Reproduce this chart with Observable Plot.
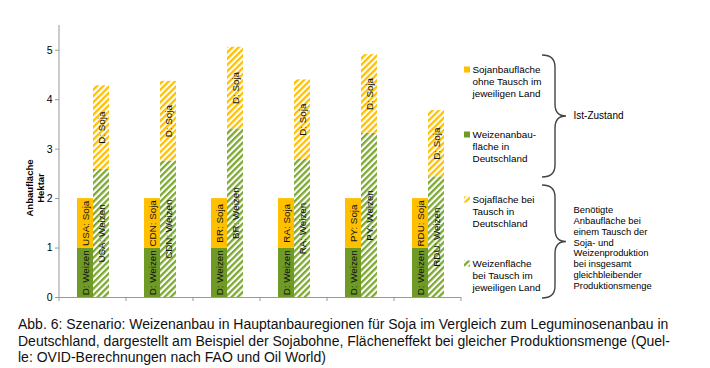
<!DOCTYPE html>
<html>
<head>
<meta charset="utf-8">
<script src="https://cdn.jsdelivr.net/npm/d3@7"></script>
<script src="https://cdn.jsdelivr.net/npm/@observablehq/plot@0.6"></script>
<style>
  body { margin: 0; background: #fff; width: 710px; height: 368px; overflow: hidden; }
  #caption { font-family: "Liberation Sans", Arial, sans-serif; font-size: 14px; line-height: 16.5px; color: #111; padding-left: 18px; margin-top: 4px; white-space: nowrap; }
</style>
</head>
<body>
<div id="chart"></div>
<div id="caption"></div>
<script>
const regions = ["USA", "CDN", "BR", "RA", "PY", "RDU"];
const dWeizen = [1, 1, 1, 1, 1, 1];                          // Weizenanbaufläche in Deutschland (Ist)
const sojaHeimat = [1, 1, 1, 1, 1, 1];                       // Sojaanbaufläche ohne Tausch im jeweiligen Land
const weizenTausch = [2.59, 2.76, 3.41, 2.79, 3.32, 2.44];   // Weizenfläche bei Tausch im jeweiligen Land
const sojaTauschD = [1.69, 1.61, 1.65, 1.61, 1.59, 1.34];    // Sojafläche bei Tausch in Deutschland
const yTicks = [0, 1, 2, 3, 4, 5];
const yLabel = ["Anbaufläche", "Hektar"];
const legendItems = [
  ["Sojanbaufläche", "ohne Tausch im", "jeweiligen Land"],
  ["Weizenanbau-", "fläche in", "Deutschland"],
  ["Sojafläche bei", "Tausch in", "Deutschland"],
  ["Weizenfläche", "bei Tausch im", "jeweiligen Land"]
];
const braceLabels = [
  ["Ist-Zustand"],
  ["Benötigte", "Anbaufläche bei", "einem Tausch der", "Soja- und", "Weizenproduktion", "bei insgesamt", "gleichbleibender", "Produktionsmenge"]
];
const captionLines = [
  "Abb. 6: Szenario: Weizenanbau in Hauptanbauregionen für Soja im Vergleich zum Leguminosenanbau in",
  "Deutschland, dargestellt am Beispiel der Sojabohne, Flächeneffekt bei gleicher Produktionsmenge (Quel-",
  "le: OVID-Berechnungen nach FAO und Oil World)"
];

const GREEN = "#6f9a26", YELLOW = "#ffc000", HGREEN = "#7da832";

const rows = regions.flatMap((r, i) => [
  {region: r, kind: "ist", part: "dw", y1: 0, y2: dWeizen[i], label: "D: Weizen"},
  {region: r, kind: "ist", part: "s", y1: dWeizen[i], y2: dWeizen[i] + sojaHeimat[i], label: r + ": Soja"},
  {region: r, kind: "tausch", part: "w", y1: 0, y2: weizenTausch[i], label: r + ": Weizen"},
  {region: r, kind: "tausch", part: "ds", y1: weizenTausch[i], y2: weizenTausch[i] + sojaTauschD[i], label: "D: Soja"}
]);
const fills = {dw: GREEN, s: YELLOW, w: "url(#hG)", ds: "url(#hY)"};

const barMarks = Object.keys(fills).map(p =>
  Plot.barY(rows.filter(d => d.part === p), {fx: "region", x: "kind", y1: "y1", y2: "y2", fill: fills[p], inset: 0})
);

const plot = Plot.plot({
  width: 710, height: 312,
  marginLeft: 58, marginRight: 248, marginTop: 25, marginBottom: 15,
  style: {fontFamily: "'Liberation Sans', Arial, sans-serif", fontSize: "10px", color: "#000", background: "#fff"},
  fx: {domain: regions, padding: 0, axis: null},
  x: {domain: ["ist", "tausch"], paddingInner: 0, paddingOuter: 0.98, axis: null},
  y: {domain: [0, 5.5]},
  marks: [
    ...barMarks,
    Plot.text(rows, {fx: "region", x: "kind", y: d => (d.y1 + d.y2) / 2, text: "label", rotate: -90, fontSize: 9.8, fill: "#111"}),
    Plot.ruleY([0], {stroke: "#999", strokeWidth: 1}),
    Plot.axisY({ticks: yTicks, tickFormat: d3.format("d"), tickSize: 4, tickPadding: 3, stroke: "#999", fill: "#000", fontSize: 10.5, label: null})
  ]
});

const svg = d3.select(plot.tagName === "svg" ? plot : plot.querySelector("svg"));
const defs = svg.insert("defs", ":first-child");
[["hG", HGREEN], ["hY", YELLOW]].forEach(([id, c]) => {
  const p = defs.append("pattern").attr("id", id).attr("patternUnits", "userSpaceOnUse")
    .attr("width", 4.4).attr("height", 4.4).attr("patternTransform", "rotate(45)");
  p.append("rect").attr("width", 4.4).attr("height", 4.4).attr("fill", "#fff");
  p.append("rect").attr("width", 2.3).attr("height", 4.4).attr("fill", c);
});

const fx = plot.scale("fx"), y = plot.scale("y");
const y0 = y.apply(0), yTop = y.apply(5.5);
const left = fx.apply(regions[0]);
const g = svg.append("g").attr("text-anchor", "start");
// left axis line
g.append("line").attr("x1", left).attr("x2", left).attr("y1", yTop).attr("y2", y0).attr("stroke", "#999");
// category boundary ticks
const bounds = regions.map(r => fx.apply(r)).concat([fx.apply(regions[regions.length - 1]) + fx.bandwidth]);
bounds.forEach(b => g.append("line").attr("x1", b).attr("x2", b).attr("y1", y0).attr("y2", y0 + 4).attr("stroke", "#999"));
// y label
const yl = g.append("text").attr("transform", `translate(34,${(y0 + yTop) / 2 + 27}) rotate(-90)`)
  .attr("text-anchor", "middle").attr("font-weight", "bold").attr("font-size", 9.5).attr("fill", "#000");
yLabel.forEach((t, i) => yl.append("tspan").attr("x", 0).attr("dy", i === 0 ? "-0.15em" : "1.15em").text(t));

// legend
const legendY = [70, 135, 200, 264];
const legendFill = [YELLOW, GREEN, "url(#hY)", "url(#hG)"];
legendItems.forEach((lines, i) => {
  g.append("rect").attr("x", 464).attr("y", legendY[i] - 3.5).attr("width", 6).attr("height", 6).attr("fill", legendFill[i]);
  lines.forEach((t, j) => g.append("text").attr("x", 472.5).attr("y", legendY[i] + j * 11.6).attr("dy", "0.35em")
    .attr("font-size", 9.9).attr("fill", "#000").text(t));
});
// braces
const braces = [[55, 177], [185, 298]];
braces.forEach(([a, b]) => {
  const m = (a + b) / 2;
  g.append("path").attr("fill", "none").attr("stroke", "#444").attr("stroke-width", 1.4)
    .attr("d", `M542,${a} Q555,${a} 555,${a + 12} L555,${m - 12} Q555,${m} 566,${m} Q555,${m} 555,${m + 12} L555,${b - 12} Q555,${b} 542,${b}`);
});
const braceY = [[115], [210, 220.8, 231.6, 242.4, 253.2, 264, 274.8, 285.6]];
const braceSize = [10, 9.4];
braceLabels.forEach((lines, i) => lines.forEach((t, j) =>
  g.append("text").attr("x", 573.5).attr("y", braceY[i][j]).attr("dy", "0.35em").attr("font-size", braceSize[i]).attr("fill", "#000").text(t)));

document.getElementById("chart").appendChild(plot);
document.getElementById("caption").innerHTML = captionLines.join("<br>");
</script>
</body>
</html>
